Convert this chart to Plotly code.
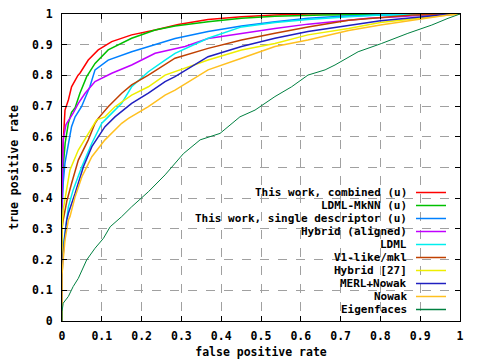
import plotly.graph_objects as go

# ---- data ----
labels = ["This work, combined (u)", "LDML-MkNN (u)", "This work, single descriptor (u)",
          "Hybrid (aligned)", "LDML", "V1-like/mkl", "Hybrid [27]", "MERL+Nowak", "Nowak", "Eigenfaces"]
colors = ["#ff0000", "#00c000", "#0080ff", "#c000ff", "#00eeee", "#c04000",
          "#eeee00", "#2020c0", "#ffc020", "#008040"]

red_x = [0, 0, 0.002, 0.003, 0.005, 0.0075, 0.016, 0.024, 0.04, 0.045, 0.066, 0.091, 0.125, 0.175, 0.234, 0.292, 0.367, 0.451, 0.535, 0.62, 1]
red_y = [0, 0.45, 0.557, 0.58, 0.633, 0.687, 0.72, 0.763, 0.8, 0.807, 0.85, 0.883, 0.91, 0.932, 0.948, 0.966, 0.982, 0.991, 0.997, 1.0, 1]

green_x = [0, 0, 0.002, 0.003, 0.008, 0.016, 0.024, 0.033, 0.045, 0.062, 0.083, 0.116, 0.175, 0.234, 0.284, 0.367, 0.451, 0.535, 0.656, 1]
green_y = [0, 0.4, 0.45, 0.503, 0.58, 0.644, 0.68, 0.695, 0.742, 0.796, 0.839, 0.883, 0.921, 0.948, 0.961, 0.975, 0.986, 0.993, 0.997, 1]

blue_x = [0, 0, 0.003, 0.0075, 0.024, 0.033, 0.049, 0.07, 0.083, 0.116, 0.175, 0.234, 0.284, 0.367, 0.451, 0.535, 0.618, 0.70, 0.8, 1]
blue_y = [0, 0.35, 0.45, 0.515, 0.633, 0.665, 0.698, 0.763, 0.818, 0.85, 0.877, 0.899, 0.92, 0.943, 0.961, 0.975, 0.986, 0.993, 0.997, 1]

purple_x = [0, 0, 0.003, 0.01, 0.028, 0.041, 0.058, 0.083, 0.125, 0.175, 0.234, 0.309, 0.367, 0.451, 0.535, 0.618, 0.686, 0.77, 0.845, 0.91, 1]
purple_y = [0, 0.4, 0.59, 0.64, 0.677, 0.709, 0.742, 0.78, 0.807, 0.834, 0.872, 0.894, 0.92, 0.937, 0.953, 0.967, 0.975, 0.986, 0.991, 0.997, 1]

cyan_x = [0, 0, 0.003, 0.0075, 0.016, 0.028, 0.05, 0.075, 0.1, 0.116, 0.15, 0.175, 0.217, 0.259, 0.284, 0.367, 0.451, 0.535, 0.618, 0.72, 0.8, 1]
cyan_y = [0, 0.2, 0.242, 0.286, 0.372, 0.427, 0.503, 0.579, 0.644, 0.665, 0.709, 0.763, 0.812, 0.85, 0.872, 0.921, 0.958, 0.972, 0.982, 0.991, 0.997, 1]

brown_x = [0, 0, 0.003, 0.012, 0.024, 0.041, 0.066, 0.083, 0.091, 0.116, 0.15, 0.175, 0.217, 0.259, 0.284, 0.367, 0.451, 0.535, 0.618, 0.72, 0.80, 0.88, 1]
brown_y = [0, 0.3, 0.329, 0.39, 0.448, 0.524, 0.59, 0.644, 0.66, 0.698, 0.742, 0.769, 0.801, 0.834, 0.856, 0.888, 0.915, 0.937, 0.958, 0.98, 0.989, 0.997, 1]

yellow_x = [0, 0, 0.003, 0.012, 0.02, 0.041, 0.066, 0.087, 0.108, 0.133, 0.175, 0.217, 0.259, 0.284, 0.367, 0.451, 0.535, 0.618, 0.72, 0.80, 0.887, 0.97, 1]
yellow_y = [0, 0.3, 0.362, 0.437, 0.492, 0.557, 0.611, 0.655, 0.665, 0.698, 0.736, 0.763, 0.801, 0.812, 0.85, 0.883, 0.904, 0.932, 0.953, 0.972, 0.986, 0.997, 1]

navy_x = [0, 0, 0.002, 0.006, 0.012, 0.016, 0.033, 0.054, 0.075, 0.108, 0.133, 0.175, 0.217, 0.259, 0.284, 0.367, 0.451, 0.535, 0.618, 0.72, 0.80, 0.887, 0.95, 1]
navy_y = [0, 0.15, 0.2, 0.264, 0.329, 0.351, 0.416, 0.503, 0.568, 0.633, 0.665, 0.709, 0.742, 0.78, 0.796, 0.861, 0.894, 0.921, 0.943, 0.964, 0.978, 0.989, 0.997, 1]

orange_x = [0, 0, 0.003, 0.0075, 0.016, 0.02, 0.033, 0.05, 0.075, 0.108, 0.15, 0.167, 0.217, 0.259, 0.284, 0.367, 0.451, 0.535, 0.618, 0.72, 0.80, 0.887, 0.97, 1]
orange_y = [0, 0.15, 0.2, 0.264, 0.329, 0.34, 0.405, 0.47, 0.535, 0.59, 0.644, 0.66, 0.698, 0.736, 0.752, 0.818, 0.856, 0.894, 0.915, 0.946, 0.964, 0.98, 0.997, 1]

eigen_x = [0, 0, 0.003, 0.016, 0.028, 0.041, 0.062, 0.083, 0.104, 0.121, 0.15, 0.175, 0.217, 0.259, 0.305, 0.347, 0.397, 0.447, 0.485, 0.535, 0.577, 0.618, 0.661, 0.686, 0.744, 0.803, 0.869, 0.929, 0.97, 1]
eigen_y = [0, 0.03, 0.058, 0.08, 0.112, 0.139, 0.199, 0.237, 0.269, 0.307, 0.34, 0.372, 0.421, 0.476, 0.545, 0.59, 0.611, 0.665, 0.687, 0.731, 0.763, 0.801, 0.818, 0.834, 0.877, 0.904, 0.937, 0.964, 0.986, 1]

series_x = [red_x, green_x, blue_x, purple_x, cyan_x, brown_x, yellow_x, navy_x, orange_x, eigen_x]
series_y = [red_y, green_y, blue_y, purple_y, cyan_y, brown_y, yellow_y, navy_y, orange_y, eigen_y]

ticks = [0, 0.1, 0.2, 0.3, 0.4, 0.5, 0.6, 0.7, 0.8, 0.9, 1]
tick_text = ["0", "0.1", "0.2", "0.3", "0.4", "0.5", "0.6", "0.7", "0.8", "0.9", "1"]

# ---- figure ----
FONT = dict(family="DejaVu Sans Mono", size=11.5, color="black", weight="bold")
LFONT = dict(family="DejaVu Sans Mono", size=11, color="black", weight="bold")
W, H = 480, 360
L, R, T, B = 62, 20, 14, 39
pw, ph = W - L - R, H - T - B

fig = go.Figure()
for i in range(len(labels)):
    fig.add_trace(go.Scatter(x=series_x[i], y=series_y[i], mode="lines",
                             line=dict(color=colors[i], width=1 if i == 9 else 1.5),
                             name=labels[i], showlegend=False, hoverinfo="skip"))

def px_x(p):
    return (p - L) / pw

def px_y(p):
    return (H - B - p) / ph

shapes = [dict(type="rect", xref="paper", yref="paper", x0=px_x(183), x1=1, y0=0, y1=px_y(185),
               fillcolor="white", line=dict(width=0), layer="between")]
annotations = []
for i, lab in enumerate(labels):
    yy = px_y(192.5 + 13 * i)
    annotations.append(dict(xref="paper", yref="paper", x=px_x(408), y=yy, text=lab,
                            showarrow=False, xanchor="right", yanchor="middle",
                            borderpad=0, font=LFONT))
    shapes.append(dict(type="line", xref="paper", yref="paper", x0=px_x(416), x1=px_x(446),
                       y0=yy, y1=yy, line=dict(color=colors[i], width=1.5)))

axis_common = dict(range=[0, 1], tickvals=ticks, ticktext=tick_text, showgrid=True,
                   gridcolor="#a0a0a0", griddash="dash", gridwidth=1, zeroline=False,
                   showline=True, linecolor="black", linewidth=1, mirror="ticks",
                   ticks="inside", ticklen=5, tickcolor="black", tickfont=FONT,
                   automargin=False)

fig.update_layout(
    width=W, height=H, margin=dict(l=L, r=R, t=T, b=B, autoexpand=False),
    paper_bgcolor="white", plot_bgcolor="white",
    xaxis=dict(**axis_common, title=dict(text="false positive rate", font=FONT, standoff=6),
               ticklabelstandoff=4),
    yaxis=dict(**axis_common, title=dict(text="true positive rate", font=FONT, standoff=10),
               ticklabelstandoff=6),
    shapes=shapes, annotations=annotations, showlegend=False,
)

fig.write_html("out.html", config={"displayModeBar": False, "staticPlot": True},
               post_script="document.body.style.margin='0';")
